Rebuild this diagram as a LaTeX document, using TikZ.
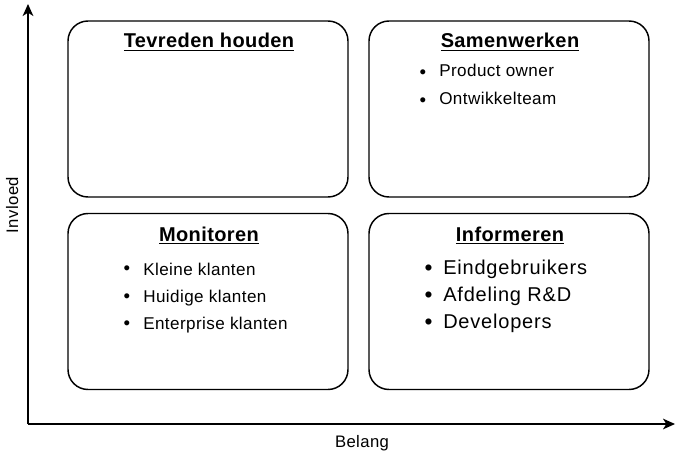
\documentclass[tikz,border=0pt]{standalone}
\usepackage{fontspec}
\setmainfont{Liberation Sans}
\newfontfamily\listfont[LetterSpace=2.5]{Liberation Sans}
\newfontfamily\biglistfont[LetterSpace=4]{Liberation Sans}
\newfontfamily\ttlfont[LetterSpace=2]{Liberation Sans}
\usetikzlibrary{arrows.meta}
\begin{document}
\begin{tikzpicture}[x=0.75pt,y=-0.75pt,
  quad/.style={draw, line width=1.1pt, rounded corners=15pt, minimum width=210pt, minimum height=132pt, inner sep=0pt},
  axis/.style={line width=1.1pt, -{Stealth[length=9pt,width=8pt,inset=2.5pt]}},
  ttl/.style={anchor=base, inner sep=0pt, font=\fontsize{15}{18}\ttlfont\bfseries},
  bul/.style={anchor=center, inner sep=0pt, font=\fontsize{14}{16}\selectfont},
  itm/.style={anchor=base west, inner sep=0pt, font=\fontsize{12.8}{14}\listfont},
  bigbul/.style={anchor=center, inner sep=0pt, font=\fontsize{17}{18}\selectfont},
  bigitm/.style={anchor=base west, inner sep=0pt, font=\fontsize{15}{18}\biglistfont},
  lbl/.style={inner sep=0pt, font=\fontsize{12.5}{14}\listfont}]
\useasboundingbox (0,0) rectangle (680,456);

% axes
\coordinate (o) at (28,424);
\coordinate (ytip) at (28,4);
\coordinate (xtip) at (675,424);
\draw[axis] (o) -- (ytip);
\draw[axis] (o) -- (xtip);
\node[lbl, rotate=90, anchor=base] (invloed) at (18,205) {Invloed};
\node[lbl, anchor=base] (belang) at (362,447) {Belang};

% boxes
\node[quad] (tl) at (208,109) {};
\node[quad] (tr) at (509,109) {};
\node[quad] (bl) at (208,301.5) {};
\node[quad] (br) at (509,301.5) {};

% titles
\node[ttl] (t1) at (209,48) {\underline{Tevreden houden}};
\node[ttl] (t2) at (510,48) {\underline{Samenwerken}};
\node[ttl] (t3) at (209,241) {\underline{Monitoren}};
\node[ttl] (t4) at (510,241) {\underline{Informeren}};

% Samenwerken list
\node[bul] (b21) at (423,74) {•};
\node[itm] (i21) at (439,77) {Product owner};
\node[bul] (b22) at (423,102) {•};
\node[itm] (i22) at (439,105) {Ontwikkelteam};

% Monitoren list
\node[bul] (b31) at (127,270.5) {•};
\node[itm] (i31) at (143,275) {Kleine klanten};
\node[bul] (b32) at (127,298.5) {•};
\node[itm] (i32) at (143,302) {Huidige klanten};
\node[bul] (b33) at (127,325.5) {•};
\node[itm] (i33) at (143,329) {Enterprise klanten};

% Informeren list
\node[bigbul] (b41) at (428.5,270.5) {•};
\node[bigitm] (i41) at (443,274) {Eindgebruikers};
\node[bigbul] (b42) at (428.5,297.5) {•};
\node[bigitm] (i42) at (443,301) {Afdeling R\&D};
\node[bigbul] (b43) at (428.5,324.5) {•};
\node[bigitm] (i43) at (443,328) {Developers};
\end{tikzpicture}
\end{document}
